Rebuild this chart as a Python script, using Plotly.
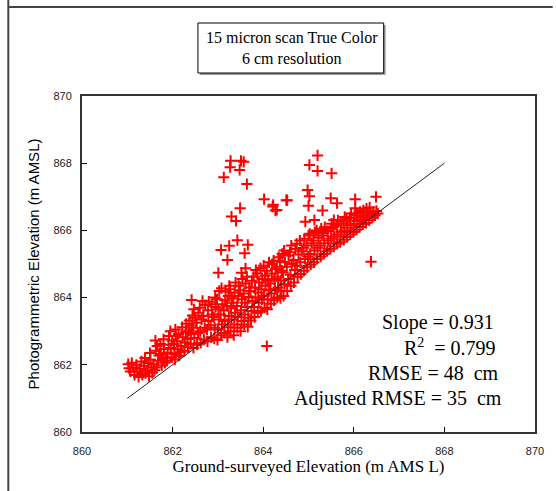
import plotly.graph_objects as go

# ---- data ----
band_low = [(861.02,862.02),(861.04,861.9),(861.07,861.8),(861.1,862.06),(861.13,861.92),(861.16,861.7),
    (861.2,862.0),(861.22,861.8),(861.25,861.64),(861.28,861.88),(861.31,862.1),(861.33,861.7),
    (861.37,861.97),(861.4,861.75),(861.39,862.2),(861.44,861.83),(861.46,862.05),(861.48,861.66),
    (861.51,862.15),(861.53,861.92),(861.55,861.76),(861.5,862.35),(861.62,862.72),(861.58,862.02),
    (861.6,861.84),(861.63,862.42),(861.66,862.56),(861.68,862.12),(861.65,861.92),(861.7,862.28),
    (861.74,862.32),(861.76,861.98),(861.73,862.62),(861.78,862.16),(861.81,862.47),(861.83,862.06),
    (861.8,862.76),(861.85,862.22),(861.89,862.36),(861.91,862.6),(861.88,862.12),(861.92,862.86),
    (861.96,862.5),(861.98,862.22),(861.95,863.0),(861.99,862.72),(862.04,862.32),(862.06,863.05),
    (862.03,862.62),(862.07,862.86),(862.05,862.16),(862.11,862.46),(862.13,862.92),(862.1,862.7),
    (862.14,862.27),(862.19,862.56),(862.21,863.12),(862.18,862.37),(862.22,862.82),(862.27,862.66),
    (862.29,862.97),(862.26,862.42),(862.3,863.22),(862.34,862.52),(862.36,863.02),(862.33,862.77),
    (862.37,863.32),(862.42,863.93),(862.4,862.62),(862.43,863.17),(862.41,862.92),(862.44,863.47)]

band_mid = [(862.46,862.5),(862.48,862.8),(862.45,863.1),(862.5,863.4),(862.47,863.65),
    (862.54,862.6),(862.56,862.95),(862.53,863.25),(862.57,863.55),
    (862.62,862.65),(862.61,863.0),(862.64,863.35),(862.6,863.7),(862.66,863.9),
    (862.69,862.75),(862.71,863.1),(862.68,863.45),(862.72,863.78),
    (862.77,862.7),(862.76,863.05),(862.79,863.3),(862.78,863.62),(862.8,863.88),
    (862.85,862.82),(862.84,863.18),(862.87,863.5),(862.86,863.8),
    (862.92,862.78),(862.93,863.1),(862.91,863.42),(862.95,863.72),(862.94,864.0),
    (862.99,862.74),(863.0,863.05),(863.02,863.35),(863.01,863.65),(862.98,863.95),(863.03,864.2),
    (863.07,862.88),(863.09,863.2),(863.06,863.5),(863.1,863.8),(863.08,864.28),
    (863.14,862.95),(863.15,863.3),(863.13,863.62),(863.16,863.92),(863.17,864.18),
    (863.21,862.82),(863.22,863.12),(863.24,863.45),(863.2,863.75),(863.23,864.05),(863.25,864.35),
    (863.28,863.0),(863.3,863.35),(863.29,863.68),(863.31,863.98),(863.27,864.25),
    (863.35,862.88),(863.36,863.2),(863.38,863.55),(863.34,863.85),(863.37,864.15),(863.39,864.45),
    (863.43,863.1),(863.44,863.42),(863.42,863.75),(863.45,864.05),(863.46,864.35),
    (863.5,863.0),(863.52,863.3),(863.51,863.62),(863.53,863.95),(863.49,864.22),(863.54,864.55),
    (863.58,863.2),(863.59,863.5),(863.6,863.85),(863.57,864.12),(863.61,864.42),
    (863.66,863.13),(863.67,863.4),(863.65,863.72),(863.68,864.02),(863.69,864.3),(863.64,864.62),
    (863.73,863.32),(863.74,863.6),(863.76,863.9),(863.72,864.2),(863.75,864.5),
    (863.81,863.42),(863.8,863.72),(863.83,864.0),(863.82,864.3),(863.79,864.62),(863.84,864.82),
    (863.88,863.55),(863.9,863.85),(863.89,864.15),(863.91,864.45),(863.87,864.72),
    (863.95,863.6),(863.97,863.95),(863.96,864.25),(863.98,864.55),(863.94,864.88),
    (864.03,863.7),(864.02,864.05),(864.05,864.35),(864.04,864.65),(864.01,864.95),
    (864.09,863.65),(864.1,863.95),(864.12,864.22),(864.11,864.5),(864.08,864.8),(864.13,865.05),
    (864.17,863.82),(864.18,864.12),(864.16,864.42),(864.19,864.72),(864.2,865.0),
    (864.24,863.92),(864.26,864.25),(864.25,864.55),(864.27,864.85),(864.23,865.1),
    (864.31,864.0),(864.33,864.3),(864.32,864.62),(864.3,864.92),(864.34,865.2),
    (864.38,863.98),(864.4,864.2),(864.39,864.5),(864.41,864.8),(864.37,865.1),(864.42,865.3)]

band_high = [(864.45,864.05),(864.47,864.4),(864.44,864.75),(864.48,865.05),(864.46,865.4),
    (864.53,864.2),(864.55,864.55),(864.52,864.92),(864.56,865.25),
    (864.61,864.35),(864.6,864.68),(864.63,865.0),(864.59,865.35),(864.62,865.55),
    (864.68,864.45),(864.7,864.82),(864.67,865.12),(864.71,865.45),
    (864.76,864.62),(864.75,864.95),(864.78,865.28),(864.74,865.6),
    (864.83,864.7),(864.82,865.05),(864.85,865.38),(864.81,865.7),
    (864.9,864.8),(864.92,865.15),(864.89,865.48),(864.91,865.75),
    (864.97,864.9),(864.99,865.22),(864.96,865.55),(865.0,865.85),
    (865.05,864.98),(865.04,865.3),(865.07,865.62),(865.03,865.9),
    (865.12,865.05),(865.13,865.4),(865.11,865.7),(865.14,865.95),
    (865.19,865.15),(865.2,865.48),(865.22,865.78),(865.18,866.0),
    (865.27,865.22),(865.26,865.55),(865.29,865.85),(865.28,866.05),
    (865.34,865.3),(865.35,865.62),(865.33,865.92),(865.36,866.1),
    (865.41,865.38),(865.43,865.7),(865.42,865.98),
    (865.48,865.45),(865.5,865.76),(865.49,866.05),(865.51,866.2),
    (865.56,865.52),(865.57,865.82),(865.55,866.1),
    (865.63,865.6),(865.64,865.88),(865.62,866.15),(865.65,866.3),
    (865.7,865.65),(865.72,865.95),(865.71,866.2),
    (865.78,865.72),(865.79,866.0),(865.77,866.27),(865.8,866.4),
    (865.85,865.8),(865.86,866.08),(865.84,866.33),
    (865.92,865.88),(865.93,866.15),(865.91,866.38),(865.94,866.5),
    (865.99,865.95),(866.0,866.2),(866.02,866.44),
    (866.06,866.02),(866.08,866.28),(866.07,866.5),
    (866.13,866.1),(866.15,866.33),(866.14,866.55),
    (866.2,866.18),(866.22,866.4),(866.21,866.6),
    (866.27,866.22),(866.29,866.45),(866.28,866.65),
    (866.34,866.3),(866.36,866.5),(866.35,866.68),
    (866.41,866.38),(866.43,866.55),(866.47,866.45),(866.5,866.58),(866.53,866.5)]

outliers = [(863.28,868.07),(863.51,868.07),(863.57,868.04),(863.27,867.88),(863.48,867.8),
    (863.13,867.58),(863.64,867.38),(864.02,866.93),(864.21,866.71),(864.27,866.59),
    (864.51,866.9),(863.49,866.66),(863.30,866.41),(863.40,866.28),(863.43,865.71),
    (863.25,865.54),(863.07,865.42),(863.66,865.57),(863.59,865.32),(863.21,865.12),
    (863.01,864.74),(863.52,864.74),(863.61,864.87),(865.20,868.23),(865.02,867.95),
    (865.20,867.77),(865.51,867.70),(864.98,867.20),(865.02,867.02),(865.00,866.73),
    (865.49,866.96),(865.63,866.81),(866.03,866.93),(866.49,867.00),(864.53,866.90),
    (865.31,866.59),(864.93,866.26),(865.13,866.31),(866.03,866.66),(866.38,865.07),
    (864.30,866.61),(864.08,862.56),(865.56,866.31),(864.22,866.76)]

line_x = [861, 868]
line_y = [861, 868]

x_ticks = [860, 862, 864, 866, 868, 870]
y_ticks = [860, 862, 864, 866, 868, 870]

title_lines = ["15 micron scan True Color", "6 cm resolution"]
stats_lines = ["Slope = 0.931", "R<sup>2</sup>  = 0.799", "RMSE = 48  cm", "Adjusted RMSE = 35  cm"]

all_pts = band_low + band_mid + band_high + outliers
ground = [p[0] for p in all_pts]
photo = [p[1] for p in all_pts]

SERIF = "Liberation Serif, Times New Roman, serif"
SANS = "Liberation Sans, Arial, sans-serif"

fig = go.Figure()
fig.add_trace(go.Scatter(x=ground, y=photo, mode="markers",
                         marker=dict(symbol="cross-thin", size=8, color="red",
                                     line=dict(color="red", width=2)),
                         showlegend=False, hoverinfo="skip"))
fig.add_trace(go.Scatter(x=line_x, y=line_y, mode="lines",
                         line=dict(color="#222222", width=1), showlegend=False,
                         hoverinfo="skip"))

# plot area: left 82, right 543, top 96, bottom 432
L, R, T, B = 82, 543, 96, 432
W, H = 556, 491
pw, ph = R - L, B - T

def px(xp):
    return (xp - L) / pw

def py(yp):
    return (B - yp) / ph

shapes = [
    dict(type="line", xref="paper", yref="paper", x0=px(7), x1=px(7), y0=py(0), y1=py(W),
         line=dict(color="#444444", width=2)),
    dict(type="line", xref="paper", yref="paper", x0=px(7), x1=px(W + 5), y0=py(7), y1=py(7),
         line=dict(color="#444444", width=2)),
    dict(type="rect", xref="paper", yref="paper", x0=px(202), x1=px(391), y0=py(75), y1=py(25),
         fillcolor="#9a9a9a", line=dict(width=0)),
    dict(type="rect", xref="paper", yref="paper", x0=px(200), x1=px(389), y0=py(73), y1=py(23),
         fillcolor="white", line=dict(color="black", width=1)),
]

annotations = [
    dict(xref="paper", yref="paper", x=px(296), y=py(48), text="<br>".join(title_lines),
         showarrow=False, font=dict(family=SERIF, size=16, color="black"),
         xanchor="center", yanchor="middle", align="center"),
]
stat_y = [322, 347, 373, 398]
stat_x = [503, 505, 508, 511]
for t, xx, yy in zip(stats_lines, stat_x, stat_y):
    annotations.append(dict(xref="paper", yref="paper", x=px(xx), y=py(yy), text=t,
                            showarrow=False, xanchor="right", yanchor="middle",
                            font=dict(family=SERIF, size=20, color="black")))

fig.update_layout(
    width=W, height=H,
    margin=dict(l=L, r=W - R, t=T, b=H - B, pad=0),
    paper_bgcolor="white", plot_bgcolor="white",
    shapes=shapes, annotations=annotations,
    xaxis=dict(range=[860, 870], tickvals=x_ticks, ticks="inside", ticklen=5, tickwidth=1,
               tickcolor="black", showgrid=False, zeroline=False, showline=True,
               linecolor="#333333", linewidth=2, mirror=True,
               tickfont=dict(family=SANS, size=11, color="#222222"), ticklabelstandoff=8,
               title=dict(text="Ground-surveyed Elevation (m AMS L)",
                          font=dict(family=SERIF, size=17, color="black"), standoff=2)),
    yaxis=dict(range=[860, 870], tickvals=y_ticks, ticks="inside", ticklen=5, tickwidth=1,
               tickcolor="black", showgrid=False, zeroline=False, showline=True,
               linecolor="#333333", linewidth=2, mirror=True,
               tickfont=dict(family=SANS, size=11, color="#222222"), ticklabelstandoff=6,
               title=dict(text="Photogrammetric Elevation (m AMSL)",
                          font=dict(family=SANS, size=15, color="black"), standoff=10)),
)

fig.write_html("out.html")
